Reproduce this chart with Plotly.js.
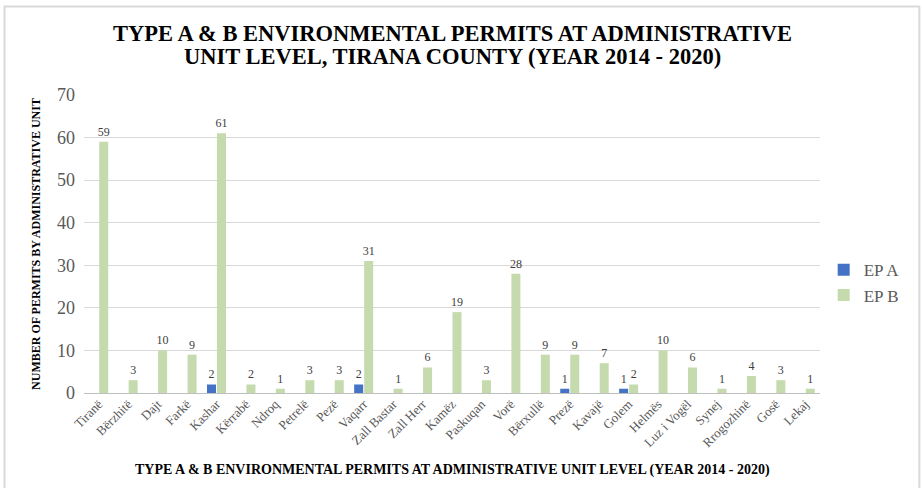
<!DOCTYPE html>
<html>
<head>
<meta charset="utf-8">
<script src="https://cdn.plot.ly/plotly-3.0.1.min.js"></script>
<style>html,body{margin:0;padding:0;background:#fff;}#chart{width:922px;height:488px;}</style>
</head>
<body>
<div id="chart"></div>
<script>
const categories = ["Tiranë","Bërzhitë","Dajt","Farkë","Kashar","Kërrabë","Ndroq","Petrelë","Pezë","Vaqarr","Zall Bastar","Zall Herr","Kamëz","Paskuqan","Vorë","Bërxullë","Prezë","Kavajë","Golem","Helmës","Luz i Vogël","Synej","Rrogozhinë","Gosë","Lekaj"];
const epA = [null,null,null,null,2,null,null,null,null,2,null,null,null,null,null,null,1,null,1,null,null,null,null,null,null];
const epB = [59,3,10,9,61,2,1,3,3,31,1,6,19,3,28,9,9,7,2,10,6,1,4,3,1];
const yTicks = [0,10,20,30,40,50,60,70];
const titleLines = ["TYPE A & B ENVIRONMENTAL PERMITS AT ADMINISTRATIVE", "UNIT LEVEL, TIRANA COUNTY (YEAR 2014 - 2020)"];
const xTitle = "TYPE A & B ENVIRONMENTAL PERMITS AT ADMINISTRATIVE UNIT LEVEL (YEAR 2014 - 2020)";

const serif = "Liberation Serif";
const labelFont = {family: serif, size: 12, color: "#404040"};

const traces = [
  {type: "bar", name: "EP A", x: categories, y: epA, marker: {color: "#4472c4"},
   text: epA.map(v => v == null ? "" : String(v)), textposition: "outside", textfont: labelFont,
   constraintext: "none", cliponaxis: false},
  {type: "bar", name: "EP B", x: categories, y: epB, marker: {color: "#c5dbae"},
   text: epB.map(v => String(v)), textposition: "outside", textfont: labelFont,
   constraintext: "none", cliponaxis: false}
];

const layout = {
  width: 922, height: 488,
  margin: {l: 84, r: 102, t: 95, b: 95},
  paper_bgcolor: "#fff", plot_bgcolor: "#fff",
  barmode: "group", bargap: 0.32, bargroupgap: 0.1,
  xaxis: {
    tickangle: -45, tickfont: {family: serif, size: 13, color: "#595959"},
    showgrid: false, showline: false, ticks: "", automargin: false
  },
  yaxis: {
    range: [0, 70], tickvals: yTicks, ticktext: yTicks.map(String),
    tickfont: {family: serif, size: 18, color: "#595959"},
    ticklabelstandoff: 8,
    showgrid: true, gridcolor: "#d9d9d9", gridwidth: 1,
    zeroline: true, zerolinecolor: "#bfbfbf", zerolinewidth: 1,
    showline: false, ticks: "", automargin: false,
    title: {text: "<b>NUMBER OF PERMITS BY ADMINISTRATIVE UNIT</b>",
      font: {family: serif, size: 12, color: "#000"}, standoff: 13}
  },
  legend: {x: 1.005, xanchor: "left", y: 0.37, yanchor: "middle",
    font: {family: serif, size: 17, color: "#595959"}, tracegroupgap: 6, itemwidth: 30},
  annotations: [
    {text: "<b>" + titleLines[0] + "</b>", xref: "paper", yref: "paper", x: 0.5, y: 1.208, xanchor: "center", yanchor: "middle",
     showarrow: false, font: {family: serif, size: 22.5, color: "#000"}},
    {text: "<b>" + titleLines[1] + "</b>", xref: "paper", yref: "paper", x: 0.5, y: 1.128, xanchor: "center", yanchor: "middle",
     showarrow: false, font: {family: serif, size: 22.5, color: "#000"}},
    {text: "<b>" + xTitle + "</b>", xref: "paper", yref: "paper", x: 0.5, y: -0.258, xanchor: "center", yanchor: "middle",
     showarrow: false, font: {family: serif, size: 14, color: "#000"}}
  ],
  shapes: [
    {type: "rect", xref: "paper", yref: "paper", x0: -0.108, x1: 1.135, y0: -0.5, y1: 1.297,
     line: {color: "#d9d9d9", width: 2}, fillcolor: "rgba(0,0,0,0)"}
  ],
  showlegend: true
};

Plotly.newPlot("chart", traces, layout, {displayModeBar: false, staticPlot: true});
</script>
</body>
</html>
